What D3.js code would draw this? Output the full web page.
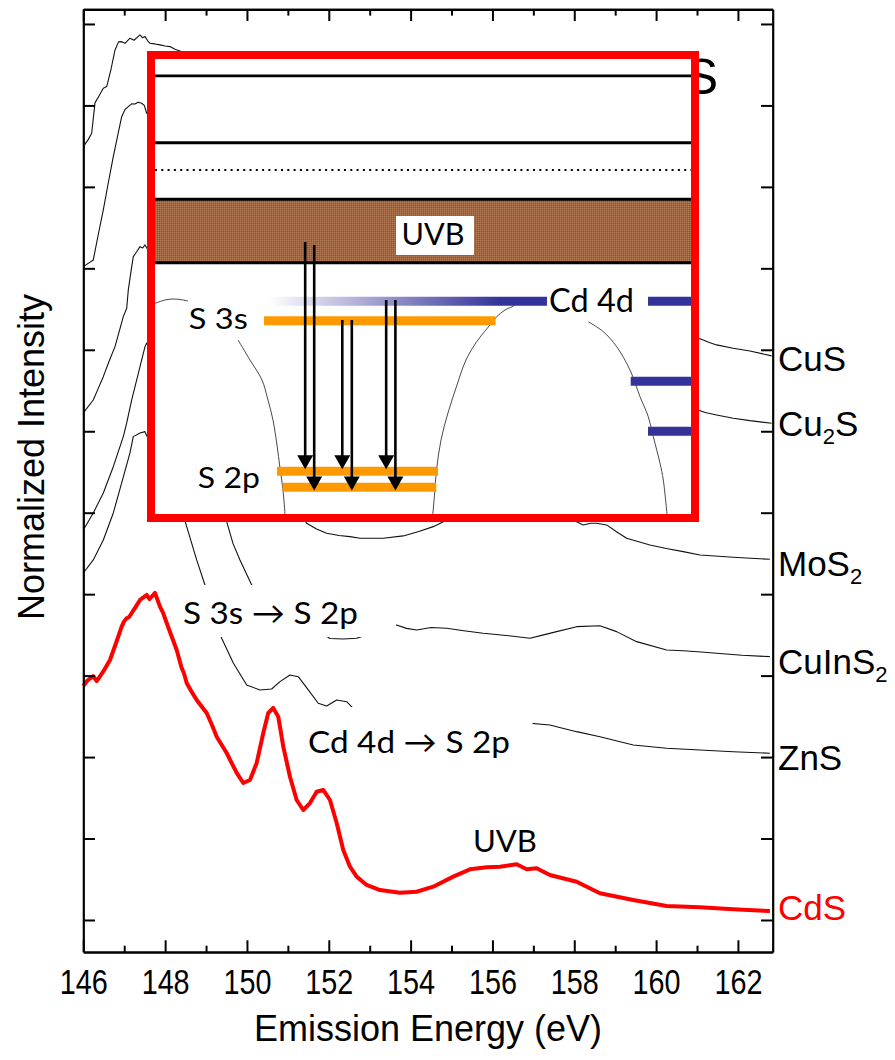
<!DOCTYPE html>
<html>
<head>
<meta charset="utf-8">
<script src="https://cdn.jsdelivr.net/npm/d3@7"></script>
<style>
  body { margin: 0; background: #fff; }
  svg { display: block; }
</style>
</head>
<body>
<svg id="chart" width="895" height="1060"></svg>
<script>
// ---------- spectra: [emission energy (eV), normalized intensity (offset)] ----------
const energyMajorTicks = [146, 148, 150, 152, 154, 156, 158, 160, 162];
const energyMinorTicks = [147, 149, 151, 153, 155, 157, 159, 161];
const intensityTicks = [0, 1, 2, 3, 4, 5, 6, 7, 8, 9, 10, 11];

const cuS = [
  [146.00, 9.494], [146.12, 9.58], [146.205, 9.659], [146.286, 10.031], [146.40, 10.13], [146.489, 10.211],
  [146.572, 10.231], [146.68, 10.45], [146.775, 10.681], [146.86, 10.78], [146.938, 10.783], [147.02, 10.763],
  [147.141, 10.825], [147.24, 10.80], [147.386, 10.865], [147.45, 10.83], [147.508, 10.845], [147.58, 10.79],
  [147.630, 10.763], [147.75, 10.755], [147.874, 10.743], [148.00, 10.73], [148.119, 10.722], [148.24, 10.69],
  [148.363, 10.669],
  [161.029, 7.142], [161.152, 7.121], [161.30, 7.09], [161.479, 7.060], [161.885, 7.019], [162.293, 6.986], [162.823, 6.925]
];

const cu2S = [
  [146.00, 8.021], [146.244, 8.103], [146.36, 8.40], [146.489, 8.717], [146.60, 9.02], [146.733, 9.371],
  [146.84, 9.63], [146.938, 9.862], [147.02, 9.95], [147.100, 9.985], [147.18, 10.02], [147.263, 10.018],
  [147.34, 10.04], [147.427, 10.027], [147.49, 10.00], [147.549, 9.904],
  [161.029, 6.262], [161.20, 6.23], [161.479, 6.200], [161.885, 6.160], [162.293, 6.130], [162.823, 6.098]
];

const moS2 = [
  [146.00, 6.225], [146.244, 6.384], [146.36, 6.52], [146.489, 6.670], [146.63, 6.86], [146.775, 7.039],
  [146.978, 7.407], [147.061, 7.510], [147.100, 7.735], [147.183, 8.021], [147.222, 8.144], [147.30, 8.20],
  [147.386, 8.266], [147.45, 8.25], [147.508, 8.287],
  [151.459, 4.870], [151.70, 4.80], [151.948, 4.748], [152.25, 4.72], [152.518, 4.706], [152.762, 4.686],
  [153.331, 4.686], [153.820, 4.715], [154.20, 4.77], [154.553, 4.829], [154.961, 4.93],
  [157.894, 4.93], [158.219, 4.850], [158.40, 4.87], [158.547, 4.870], [158.791, 4.850], [159.05, 4.76],
  [159.280, 4.686], [159.849, 4.604], [160.25, 4.56], [160.663, 4.522], [161.071, 4.481], [161.885, 4.453],
  [162.781, 4.428]
];

const cuInS2 = [
  [146.00, 4.788], [146.244, 4.997], [146.489, 5.242], [146.733, 5.565], [146.978, 5.934], [147.061, 6.102],
  [147.183, 6.384], [147.386, 6.793], [147.508, 7.039], [147.549, 7.084],
  [149.504, 4.890], [149.66, 4.62], [149.829, 4.420], [150.116, 4.113],
  [152.029, 3.456], [152.354, 3.450], [152.681, 3.459],
  [153.659, 3.622], [153.90, 3.58], [154.148, 3.560], [154.50, 3.59], [154.881, 3.581], [155.30, 3.55],
  [155.775, 3.520], [156.40, 3.49], [156.916, 3.459], [157.25, 3.50], [157.569, 3.540], [158.058, 3.601],
  [158.627, 3.613], [159.035, 3.540], [159.524, 3.417], [160.257, 3.315], [160.663, 3.306], [161.10, 3.29],
  [161.479, 3.274], [162.10, 3.25], [162.781, 3.233]
];

const znS = [
  [146.00, 4.260], [146.244, 4.420], [146.489, 4.665], [146.733, 4.997], [146.938, 5.365], [147.141, 5.734],
  [147.222, 5.934], [147.386, 5.979], [147.508, 5.995],
  [148.485, 4.899], [148.771, 4.420], [148.974, 4.113],
  [149.382, 3.459], [149.666, 3.155], [149.993, 2.885], [150.318, 2.824], [150.604, 2.836], [150.807, 2.926],
  [151.051, 3.008], [151.254, 2.987], [151.499, 2.824], [151.743, 2.661], [151.948, 2.627], [152.193, 2.701],
  [152.437, 2.680], [152.598, 2.599],
  [157.405, 2.394], [157.569, 2.373], [158.058, 2.312], [158.627, 2.250], [159.441, 2.148], [160.257, 2.108],
  [161.071, 2.087], [161.885, 2.066], [162.781, 2.047]
];

const cdS = [
  [146.00, 2.873], [146.10, 2.94], [146.244, 2.994], [146.327, 2.932], [146.42, 3.00], [146.50, 3.06],
  [146.652, 3.192], [146.80, 3.40], [146.938, 3.601], [146.99, 3.66], [147.05, 3.70], [147.12, 3.72],
  [147.183, 3.769], [147.30, 3.86], [147.386, 3.929], [147.47, 3.96], [147.549, 3.990], [147.62, 3.94],
  [147.69, 3.98], [147.752, 4.015], [147.874, 3.847], [147.95, 3.77], [148.038, 3.646], [148.16, 3.48],
  [148.283, 3.315], [148.40, 3.10], [148.46, 3.03], [148.527, 2.910], [148.65, 2.80], [148.771, 2.701],
  [149.015, 2.541], [149.14, 2.40], [149.260, 2.250], [149.504, 2.050], [149.749, 1.805], [149.910, 1.682],
  [150.074, 1.719], [150.238, 1.928], [150.399, 2.296], [150.521, 2.541], [150.643, 2.603], [150.765, 2.496],
  [150.888, 2.128], [151.051, 1.759], [151.215, 1.473], [151.376, 1.350], [151.540, 1.436], [151.704, 1.575],
  [151.865, 1.596], [152.029, 1.473], [152.193, 1.191], [152.354, 0.859], [152.518, 0.654], [152.681, 0.532],
  [152.925, 0.430], [153.251, 0.368], [153.739, 0.335], [154.148, 0.347], [154.553, 0.409], [155.042, 0.532],
  [155.450, 0.622], [155.858, 0.647], [156.183, 0.654], [156.591, 0.684], [156.836, 0.622], [157.080, 0.635],
  [157.405, 0.552], [158.058, 0.470], [158.627, 0.328], [159.441, 0.246], [160.257, 0.172], [161.071, 0.156],
  [161.885, 0.131], [162.781, 0.110]
];

const spectra = [
  { name: "CuS", values: cuS },
  { name: "Cu2S", values: cu2S },
  { name: "MoS2", values: moS2 },
  { name: "CuInS2", values: cuInS2 },
  { name: "ZnS", values: znS }
];

// ---------- inset level scheme (schematic units 0..100 in both directions) ----------
const solidLevels = [96.3, 81.6];
const dottedLevels = [75.6];
const uvbBand = [55.2, 69.2];
const s3sLevel = [20.34, 63.54, 42.48];               // [x0, x1, level]
const s2pLevels = [[22.76, 52.80, 9.41], [23.81, 52.48, 5.89]];
const cd4dFade = [21.08, 64.4, 73.13, 46.75];         // [fade start, fully opaque, end, level]
const cd4dLevels = [[91.98, 100, 46.75], [88.75, 100, 29.16], [91.98, 100, 18.18]];
const transitions = [                                  // [x, from, to]
  [28.02, 59.78, 9.82], [29.70, 59.12, 5.16],
  [34.94, 42.64, 9.82], [36.72, 42.64, 5.16],
  [43.13, 47.03, 9.82], [44.85, 47.03, 5.16]
];
const bandEdges = [
  [[0, 46.3], [1.87, 47.03], [3.36, 47.25], [4.66, 47.14], [6.16, 46.81]],
  [[15.49, 38.24], [17.72, 33.85], [19.96, 29.45], [21.08, 25.05], [22.01, 20.66], [22.76, 15.16],
   [23.32, 10.11], [23.88, 5.27], [24.25, 0]],
  [[51.83, 0], [52.15, 4.18], [52.52, 9.67], [53.36, 16.26], [54.66, 22.2], [56.34, 28.35], [58.02, 33.85],
   [60.02, 37.87], [62.5, 41.54], [63.75, 43.36], [65.3, 44.84], [66.85, 45.71], [67.54, 46.26]],
  [[80.84, 42.26], [83.64, 40.07], [86.14, 36.77], [88.62, 31.65], [90.49, 25.78], [92.03, 21.38],
   [92.97, 16.99], [94.22, 11.14], [94.83, 7.47], [95.52, 0]]
];

// ---------- scales ----------
const svg = d3.select("#chart");
const x = d3.scaleLinear().domain([146, 162.85]).range([83.3, 772.7]);
const y = d3.scaleLinear().domain([-0.393, 11.18]).range([952, 9.3]);
const ix = d3.scaleLinear().domain([0, 100]).range([155, 691]);
const iy = d3.scaleLinear().domain([0, 100]).range([514, 59]);

const sans = "'Liberation Sans', Arial, sans-serif";
const humanist = "Lato, 'Open Sans', 'DejaVu Sans', sans-serif";

const defs = svg.append("defs");
const pat = defs.append("pattern").attr("id", "uvbTexture")
  .attr("width", 2).attr("height", 2).attr("patternUnits", "userSpaceOnUse");
pat.append("rect").attr("width", 2).attr("height", 2).attr("fill", "#9c6649");
pat.append("rect").attr("width", 1).attr("height", 1).attr("fill", "#b47d58");
pat.append("rect").attr("x", 1).attr("y", 1).attr("width", 1).attr("height", 1).attr("fill", "#86553f");

const fade = defs.append("linearGradient").attr("id", "cdFade")
  .attr("gradientUnits", "userSpaceOnUse")
  .attr("x1", ix(cd4dFade[0])).attr("x2", ix(cd4dFade[1])).attr("y1", 0).attr("y2", 0);
fade.append("stop").attr("offset", 0).attr("stop-color", "#333399").attr("stop-opacity", 0);
fade.append("stop").attr("offset", 1).attr("stop-color", "#333399").attr("stop-opacity", 1);

// ---------- spectra ----------
const line = d3.line().x(d => x(d[0])).y(d => y(d[1]));

svg.append("g").selectAll("path").data(spectra).join("path")
  .attr("d", d => line(d.values))
  .attr("fill", "none").attr("stroke", "#111").attr("stroke-width", 1.1)
  .attr("stroke-linejoin", "round");

// large sample label partly hidden behind the inset
svg.append("text").attr("x", 718).attr("y", 94).attr("text-anchor", "end")
  .attr("font-family", sans).attr("font-size", 50).attr("fill", "#000").text("S");

// annotation labels with white backgrounds
const notes = [
  { text: "S 3s \u2192 S 2p", box: [148.314, 153.642, 4.113, 3.474], at: [148.436, 3.634], len: 175 },
  { text: "Cd 4d \u2192 S 2p", box: [151.296, 156.98, 2.615, 1.866], at: [151.491, 2.054], len: 202 }
];
const ng = svg.append("g");
notes.forEach(n => {
  ng.append("rect").attr("x", x(n.box[0])).attr("y", y(n.box[2]))
    .attr("width", x(n.box[1]) - x(n.box[0])).attr("height", y(n.box[3]) - y(n.box[2]))
    .attr("fill", "#fff");
  ng.append("text").attr("x", x(n.at[0])).attr("y", y(n.at[1]))
    .attr("font-family", humanist).attr("font-size", 31)
    .attr("textLength", n.len).attr("lengthAdjust", "spacingAndGlyphs")
    .attr("fill", "#000").text(n.text);
});
ng.append("text").attr("x", x(156.305)).attr("y", y(0.835)).attr("text-anchor", "middle")
  .attr("font-family", humanist).attr("font-size", 31)
  .attr("textLength", 64).attr("lengthAdjust", "spacingAndGlyphs").text("UVB");

// CdS spectrum
svg.append("path").datum(cdS).attr("d", line)
  .attr("fill", "none").attr("stroke", "#ff0000").attr("stroke-width", 4)
  .attr("stroke-linejoin", "round");

// ---------- inset: S 2p emission scheme ----------
const ins = svg.append("g");
ins.append("rect").attr("x", ix(0)).attr("y", iy(100))
  .attr("width", ix(100) - ix(0)).attr("height", iy(0) - iy(100)).attr("fill", "#fff");

ins.append("rect").attr("x", ix(0)).attr("y", iy(uvbBand[1]))
  .attr("width", ix(100) - ix(0)).attr("height", iy(uvbBand[0]) - iy(uvbBand[1]))
  .attr("fill", "url(#uvbTexture)");

const hl = (lv, w) => ins.append("line").attr("x1", ix(0)).attr("x2", ix(100))
  .attr("y1", iy(lv)).attr("y2", iy(lv)).attr("stroke", "#000").attr("stroke-width", w);
hl(solidLevels[0], 2.7);
hl(solidLevels[1], 3);
uvbBand.forEach(b => hl(b, 3));
dottedLevels.forEach(lv => hl(lv, 2).attr("stroke-dasharray", "2 4.3"));

// UVB label box
ins.append("rect").attr("x", ix(44.96)).attr("y", iy(65.5))
  .attr("width", ix(59.51) - ix(44.96)).attr("height", iy(56.92) - iy(65.5)).attr("fill", "#fff");
ins.append("text").attr("x", ix(51.87)).attr("y", iy(59.12)).attr("text-anchor", "middle")
  .attr("font-family", humanist).attr("font-size", 31)
  .attr("textLength", 63).attr("lengthAdjust", "spacingAndGlyphs").text("UVB");

// band-edge outlines
const edge = d3.line().x(d => ix(d[0])).y(d => iy(d[1])).curve(d3.curveCatmullRom);
ins.append("g").selectAll("path").data(bandEdges).join("path")
  .attr("d", edge).attr("fill", "none").attr("stroke", "#333").attr("stroke-width", 0.9);

// Cd 4d levels
ins.append("line").attr("x1", ix(cd4dFade[0])).attr("x2", ix(cd4dFade[2]))
  .attr("y1", iy(cd4dFade[3])).attr("y2", iy(cd4dFade[3]))
  .attr("stroke", "url(#cdFade)").attr("stroke-width", 9);
ins.append("g").selectAll("line").data(cd4dLevels).join("line")
  .attr("x1", d => ix(d[0])).attr("x2", d => ix(d[1]))
  .attr("y1", d => iy(d[2])).attr("y2", d => iy(d[2]))
  .attr("stroke", "#333399").attr("stroke-width", 9);

// S 3s and S 2p levels
ins.append("g").selectAll("line").data([s3sLevel, ...s2pLevels]).join("line")
  .attr("x1", d => ix(d[0])).attr("x2", d => ix(d[1]))
  .attr("y1", d => iy(d[2])).attr("y2", d => iy(d[2]))
  .attr("stroke", "#ff9900").attr("stroke-width", 9);

// emission arrows
const head = 14, half = 8;
const ag = ins.append("g");
transitions.forEach(t => {
  const ax = ix(t[0]), y0 = iy(t[1]), y1 = iy(t[2]);
  ag.append("line").attr("x1", ax).attr("x2", ax).attr("y1", y0).attr("y2", y1 - head + 1)
    .attr("stroke", "#000").attr("stroke-width", 2.6);
  ag.append("path").attr("d", `M${ax - half},${y1 - head}L${ax + half},${y1 - head}L${ax},${y1}Z`)
    .attr("fill", "#000");
});

// inset labels
const lab = (t, ux, uy, size, len) => ins.append("text").attr("x", ix(ux)).attr("y", iy(uy))
  .attr("font-family", humanist).attr("font-size", size)
  .attr("textLength", len).attr("lengthAdjust", "spacingAndGlyphs").attr("fill", "#000").text(t);
lab("S 3s", 6.3, 40.66, 29, 59);
lab("S 2p", 8.0, 5.65, 29, 62);
lab("Cd 4d", 73.5, 44.46, 32, 85);

// red frame
ins.append("rect").attr("x", ix(0) - 4).attr("y", iy(100) - 4)
  .attr("width", ix(100) - ix(0) + 8).attr("height", iy(0) - iy(100) + 8)
  .attr("fill", "none").attr("stroke", "#ff0000").attr("stroke-width", 8);

// ---------- axes ----------
const styleAxis = g => {
  g.selectAll(".domain").attr("stroke", "#000").attr("stroke-width", 2.2);
  g.selectAll(".tick line").attr("stroke", "#000").attr("stroke-width", 2);
};
const H0 = y.range()[0], H1 = y.range()[1];

svg.append("g").attr("transform", `translate(0,${H0})`)
  .call(d3.axisBottom(x).tickValues(energyMajorTicks).tickSizeInner(-11.7).tickSizeOuter(0).tickFormat(d3.format("d")))
  .call(styleAxis)
  .call(g => g.selectAll(".tick text").attr("y", 42).attr("dy", null)
    .attr("font-family", sans).attr("font-size", 35).attr("fill", "#000")
    .attr("textLength", 48).attr("lengthAdjust", "spacingAndGlyphs"));
svg.append("g").attr("transform", `translate(0,${H0})`)
  .call(d3.axisBottom(x).tickValues(energyMinorTicks).tickSizeInner(-6.3).tickSizeOuter(0).tickFormat(""))
  .call(styleAxis);
svg.append("g").attr("transform", `translate(0,${H1})`)
  .call(d3.axisTop(x).tickValues(energyMajorTicks).tickSizeInner(-11.7).tickSizeOuter(0).tickFormat(""))
  .call(styleAxis);
svg.append("g").attr("transform", `translate(0,${H1})`)
  .call(d3.axisTop(x).tickValues(energyMinorTicks).tickSizeInner(-6.3).tickSizeOuter(0).tickFormat(""))
  .call(styleAxis);
svg.append("g").attr("transform", `translate(${x.range()[0]},0)`)
  .call(d3.axisLeft(y).tickValues(intensityTicks).tickSizeInner(-11.7).tickSizeOuter(0).tickFormat(""))
  .call(styleAxis);
svg.append("g").attr("transform", `translate(${x.range()[1]},0)`)
  .call(d3.axisRight(y).tickValues(intensityTicks).tickSizeInner(-11.7).tickSizeOuter(0).tickFormat(""))
  .call(styleAxis);

// axis titles
svg.append("text").attr("x", (x.range()[0] + x.range()[1]) / 2).attr("y", 1041)
  .attr("text-anchor", "middle").attr("font-family", sans).attr("font-size", 36).text("Emission Energy (eV)");
svg.append("text").attr("transform", "translate(44,457) rotate(-90)")
  .attr("text-anchor", "middle").attr("font-family", sans).attr("font-size", 36).text("Normalized Intensity");

// sample names at the right edge
const sampleLabels = [
  { base: "Cu", sub: "", tail: "S", at: 371, color: "#000" },
  { base: "Cu", sub: "2", tail: "S", at: 436, color: "#000" },
  { base: "MoS", sub: "2", tail: "", at: 576, color: "#000" },
  { base: "CuInS", sub: "2", tail: "", at: 674, color: "#000" },
  { base: "ZnS", sub: "", tail: "", at: 770, color: "#000" },
  { base: "CdS", sub: "", tail: "", at: 920, color: "#ff0000" }
];
sampleLabels.forEach(s => {
  const t = svg.append("text").attr("x", 778).attr("y", s.at)
    .attr("font-family", sans).attr("font-size", 35).attr("fill", s.color);
  t.append("tspan").text(s.base);
  if (s.sub) t.append("tspan").attr("font-size", 22).attr("dy", 8).text(s.sub);
  if (s.tail) t.append("tspan").attr("dy", s.sub ? -8 : 0).text(s.tail);
});
</script>
</body>
</html>
